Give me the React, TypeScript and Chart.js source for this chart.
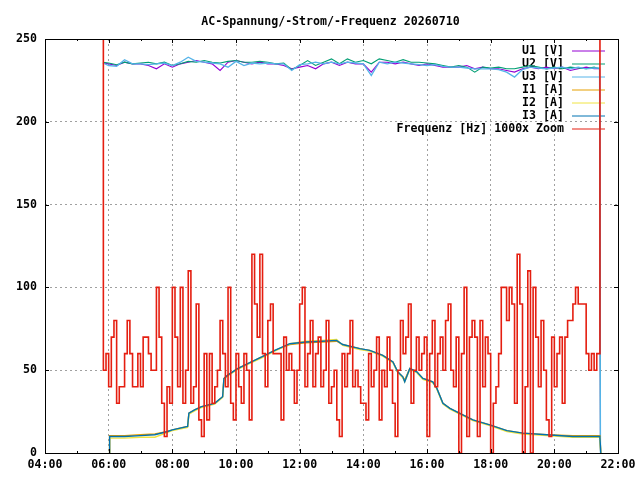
import { useEffect, useRef } from 'react'
import { Chart, registerables, type ChartConfiguration, type Plugin } from 'chart.js'

Chart.register(...registerables)

const TITLE = 'AC-Spannung/-Strom/-Frequenz 20260710'
const FONT_FAMILY = '"DejaVu Sans Mono", "Liberation Mono", monospace'

// voltage samples (hours of day)
const voltTimes = [
  5.82, 6.0, 6.25, 6.5, 6.75, 7.0, 7.25, 7.5, 7.75, 8.0, 8.25, 8.5, 8.75, 9.0, 9.25, 9.5, 9.75,
  10.0, 10.25, 10.5, 10.75, 11.0, 11.25, 11.5, 11.75, 12.0, 12.25, 12.5, 12.75, 13.0, 13.25,
  13.5, 13.75, 14.0, 14.25, 14.5, 14.75, 15.0, 15.25, 15.5, 15.75, 16.0, 16.25, 16.5, 16.75,
  17.0, 17.25, 17.5, 17.75, 18.0, 18.25, 18.5, 18.75, 19.0, 19.25, 19.5, 19.75, 20.0, 20.25,
  20.5, 20.75, 21.0, 21.25, 21.42, 21.45,
]
const u1 = [
  235.5, 235, 234, 236, 235, 235, 234, 232, 235, 233, 235, 236, 237, 236, 235, 231, 236, 237,
  236, 235, 236, 235, 235, 234, 232, 233, 234, 232, 235, 236, 234, 236, 235, 235, 230, 236, 236,
  235, 236, 235, 234, 235, 234, 233, 233, 233, 234, 232, 233, 232, 232, 231, 230, 232, 233, 232,
  233, 232, 233, 231, 232, 233, 232, 232, 1,
]
const u2 = [
  236, 235.5, 234.5, 236, 235, 235.5, 236, 235, 236, 234, 235, 236.5, 236, 237, 236, 235.5, 236.5,
  237, 236, 236, 236.5, 236, 235, 235.5, 231.5, 234, 237, 234, 236, 238, 235, 238, 236, 237, 235,
  238, 237, 236, 237.5, 236, 236, 235.5, 235, 234, 233, 234, 233, 230, 233, 232.5, 233, 232, 232,
  233, 234, 233, 232, 233, 232, 233, 232.5, 232, 233, 232, 0.5,
]
const u3 = [
  235.5, 234, 233.5, 237.5, 235, 235, 234.5, 235, 235.5, 234, 236, 239, 236.5, 236, 235.5, 235,
  233, 236.5, 234, 235.5, 235, 235.5, 235, 235, 231, 234.5, 235, 236, 235, 236, 235, 236, 235.5,
  235, 228, 236, 235, 236, 235.5, 235, 234.5, 234, 234.5, 233.5, 233, 233, 232.5, 232, 232, 232,
  231.5, 230, 227, 231.5, 233, 232.5, 232, 232.5, 233, 232, 233, 232, 232.5, 232.5, 0,
]

// current samples (hours of day)
const curTimes = [
  6.02, 6.03, 6.5, 7.0, 7.45, 7.85, 8.0, 8.48, 8.52, 8.7, 8.92, 9.33, 9.58, 9.62, 9.74, 10.05,
  10.37, 10.81, 11.22, 11.69, 12.2, 12.7, 13.16, 13.35, 13.89, 14.2, 14.61, 14.93, 15.08, 15.24,
  15.3, 15.46, 15.68, 15.87, 16.18, 16.31, 16.5, 16.72, 17.03, 17.44, 17.97, 18.51, 19.01, 19.76,
  20.58, 21.0, 21.43, 21.46,
]
const i1 = [
  0, 10.5, 10.5, 11, 11.5, 13, 14, 16, 24, 26, 28, 30, 34, 45, 47, 51, 54, 58, 62, 65.5, 66.5, 67,
  67.5, 65.5, 63, 62, 59, 55, 49, 46, 44, 51, 49, 45, 43, 39, 30, 27, 24, 20, 17, 13.5, 12, 11,
  10.5, 10.5, 10.5, 0,
]
const i2 = [
  0, 9, 9, 9.5, 9.5, 12.5, 13.5, 15.5, 23.5, 25.5, 27.5, 29.5, 33.5, 44.5, 46.5, 50.5, 53.5, 57.5,
  61.5, 66, 67.5, 68, 68.5, 65, 62.5, 61.5, 58.5, 54.5, 48.5, 45.5, 43, 50.5, 48.5, 44.5, 42.5,
  38.5, 29.5, 26.5, 23.5, 19.5, 16.5, 13, 11.5, 10.5, 9.5, 9.5, 9.5, 0,
]
const i3 = [
  0, 10, 10, 10.5, 11, 13, 14, 16, 24, 26, 28, 30, 34, 45, 47, 51, 54, 58, 62, 66, 67, 67.5, 68,
  65.5, 63, 62, 59, 55, 49, 46, 43, 51, 49, 45, 43, 39, 30, 27, 24, 20, 17, 13.5, 12, 11, 10, 10,
  10, 0,
]

// frequency deviation x1000, one sample every 5 minutes from 05:50
const freqStartMin = 350
const freqStepMin = 5
const freqValues = [
  50, 60, 40, 70, 80, 30, 40, 40, 60, 80, 60, 40, 40, 60, 40, 70, 70, 60, 50, 50,
  100, 70, 30, 10, 40, 30, 100, 70, 40, 100, 30, 50, 110, 30, 40, 90, 20, 10, 60, 20,
  60, 30, 40, 50, 80, 60, 40, 100, 30, 20, 60, 40, 30, 60, 50, 20, 120, 90, 70, 120,
  60, 40, 80, 90, 60,
  60, 60, 20, 70, 50, 60, 50, 30, 50, 90, 100, 40, 60, 80, 40, 60, 70, 40, 50, 80,
  30, 40, 50, 20, 10, 60, 40, 60, 80, 40, 50, 40, 30, 30, 20, 60, 40, 50, 70, 20,
  50, 40, 70, 50, 30, 10, 50, 80, 60, 70, 90, 30, 50, 70, 50, 60, 70, 10, 60, 80,
  40, 60, 70, 50, 80, 90,
  50, 40, 70, 0, 60, 100, 10, 70, 80, 70, 10, 80, 40, 70, 60, 0, 30, 40, 60, 100,
  100, 80, 100, 90, 30, 120, 90, 0, 40, 110, 0, 100, 70, 40, 80, 50, 20, 10, 70, 40,
  60, 70, 30, 70, 80, 80, 90, 100, 90, 90, 90, 60, 50, 60, 50, 60,
]
// off-scale spikes where logging starts and stops
const freqEdgeTimes = [5.817, 21.433]
const freqEdgeValue = 300

const xTicks = [4, 6, 8, 10, 12, 14, 16, 18, 20, 22]
const yTicks = [0, 50, 100, 150, 200, 250]

const series = [
  { label: 'U1 [V]', color: '#9400d3', width: 1.1 },
  { label: 'U2 [V]', color: '#009e73', width: 1.1 },
  { label: 'U3 [V]', color: '#56b4e9', width: 1.3 },
  { label: 'I1 [A]', color: '#e69f00', width: 1.4 },
  { label: 'I2 [A]', color: '#f0e442', width: 1.4 },
  { label: 'I3 [A]', color: '#0072b2', width: 1.4 },
  { label: 'Frequenz [Hz] 1000x Zoom', color: '#e51e10', width: 1.6 },
]

const toPoints = (xs: number[], ys: number[]) => xs.map((x, i) => ({ x, y: ys[i] }))

const freqPoints = [
  { x: freqEdgeTimes[0], y: freqEdgeValue },
  ...freqValues.map((v, i) => ({ x: (freqStartMin + i * freqStepMin) / 60, y: v })),
  { x: freqEdgeTimes[1], y: freqEdgeValue },
]

const fmtHour = (v: number) => String(v).padStart(2, '0') + ':00'

const decor: Plugin<'line'> = {
  id: 'gnuplotDecor',
  beforeDatasetsDraw(chart) {
    const ctx = chart.ctx
    ctx.save()
    ctx.font = `bold 11.6px ${FONT_FAMILY}`
    ctx.textAlign = 'right'
    ctx.textBaseline = 'middle'
    series.forEach((s, i) => {
      const y = 50.5 + i * 13
      ctx.fillStyle = '#000'
      ctx.fillText(s.label, 564, y + 0.5)
      ctx.strokeStyle = s.color
      ctx.lineWidth = 1
      ctx.beginPath()
      ctx.moveTo(572, y + 0.5)
      ctx.lineTo(605, y + 0.5)
      ctx.stroke()
    })
    ctx.restore()
  },
  afterDraw(chart) {
    const ctx = chart.ctx
    const { left, right, top, bottom } = chart.chartArea
    const xs = chart.scales.x
    const ys = chart.scales.y
    ctx.save()
    ctx.strokeStyle = '#000'
    ctx.lineWidth = 1
    ctx.beginPath()
    for (let h = 4; h <= 22; h++) {
      const px = Math.round(xs.getPixelForValue(h)) + 0.5
      const len = h % 2 === 0 ? 4 : 2
      ctx.moveTo(px, bottom)
      ctx.lineTo(px, bottom - len)
      ctx.moveTo(px, top)
      ctx.lineTo(px, top + len)
    }
    yTicks.forEach((v) => {
      const py = Math.round(ys.getPixelForValue(v)) + 0.5
      ctx.moveTo(left, py)
      ctx.lineTo(left + 4, py)
      ctx.moveTo(right, py)
      ctx.lineTo(right - 4, py)
    })
    ctx.stroke()
    ctx.strokeRect(Math.round(left) + 0.5, Math.round(top) + 0.5, Math.round(right - left), Math.round(bottom - top))
    ctx.font = `bold 11.6px ${FONT_FAMILY}`
    ctx.fillStyle = '#000'
    ctx.textAlign = 'center'
    ctx.textBaseline = 'middle'
    ctx.fillText(TITLE, 330.5, 21.5)
    ctx.restore()
  },
}

export default function App() {
  const chartRef = useRef<HTMLCanvasElement>(null)
  const chartInstance = useRef<Chart<'line'> | null>(null)

  useEffect(() => {
    if (!chartRef.current) return
    chartInstance.current?.destroy()
    const ctx = chartRef.current.getContext('2d')
    if (!ctx) return

    const data = [
      toPoints(voltTimes, u1),
      toPoints(voltTimes, u2),
      toPoints(voltTimes, u3),
      toPoints(curTimes, i1),
      toPoints(curTimes, i2),
      toPoints(curTimes, i3),
      freqPoints,
    ]

    const tickFont = { family: FONT_FAMILY, size: 11.6, weight: 'bold' as const }

    const config: ChartConfiguration<'line'> = {
      type: 'line',
      data: {
        datasets: series.map((s, i) => ({
          label: s.label,
          data: data[i],
          borderColor: s.color,
          backgroundColor: s.color,
          borderWidth: s.width,
          pointRadius: 0,
          stepped: i === 6 ? true : false,
          tension: 0,
          order: series.length - i,
        })),
      },
      options: {
        responsive: false,
        animation: false,
        parsing: false,
        normalized: true,
        layout: { padding: { top: 39, right: 22, left: 0, bottom: 0 } },
        scales: {
          x: {
            type: 'linear',
            min: 4,
            max: 22,
            afterBuildTicks: (scale) => {
              scale.ticks = xTicks.map((v) => ({ value: v }))
            },
            afterFit: (scale) => {
              scale.height = 27
              scale.paddingLeft = 0
              scale.paddingRight = 0
            },
            ticks: {
              autoSkip: false,
              maxRotation: 0,
              padding: 5,
              color: '#000',
              font: tickFont,
              callback: (value) => fmtHour(Number(value)),
            },
            grid: { color: '#a0a0a0', lineWidth: 1, drawTicks: false },
            border: { display: false, dash: [2, 3] },
          },
          y: {
            min: 0,
            max: 250,
            afterBuildTicks: (scale) => {
              scale.ticks = yTicks.map((v) => ({ value: v }))
            },
            afterFit: (scale) => {
              scale.width = 45
              scale.paddingTop = 0
              scale.paddingBottom = 0
            },
            ticks: {
              padding: 8,
              color: '#000',
              font: tickFont,
            },
            grid: { color: '#a0a0a0', lineWidth: 1, drawTicks: false },
            border: { display: false, dash: [2, 3] },
          },
        },
        plugins: {
          legend: { display: false },
          title: { display: false },
          tooltip: { enabled: false },
        },
      },
      plugins: [decor],
    }

    chartInstance.current = new Chart(ctx, config)

    return () => {
      chartInstance.current?.destroy()
    }
  }, [])

  return (
    <div style={{ position: 'absolute', left: 0, top: 0, width: 640, height: 480, background: '#fff' }}>
      <canvas ref={chartRef} width={640} height={480} />
    </div>
  )
}
